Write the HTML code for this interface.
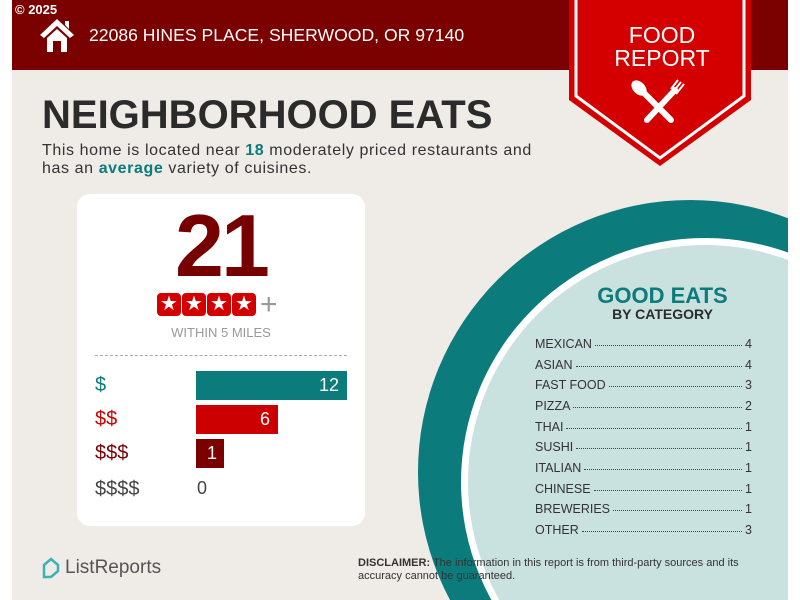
<!DOCTYPE html>
<html><head><meta charset="utf-8"><style>
body{margin:0;width:800px;height:600px;overflow:hidden;background:#fff;font-family:"Liberation Sans",sans-serif;position:relative}
.a{position:absolute;white-space:nowrap}
.row{position:absolute;left:535px;width:217px;font-size:12.5px;color:#333;display:flex;align-items:baseline}
.row .d{flex:1;border-bottom:1px dotted #444;margin:0 3px;height:0;position:relative;top:-2px}
.bl{position:absolute;left:95px;font-size:20px}
</style></head><body>
<div class="a" style="left:12px;top:0;width:776px;height:600px;background:#efebe7;overflow:hidden">
<svg width="776" height="600" style="position:absolute;left:0;top:0">
<circle cx="678" cy="472" r="272" fill="#0b7b7b"/>
<circle cx="693" cy="482" r="244" fill="#fff"/>
<circle cx="693" cy="482" r="237" fill="#c9e1df"/>
</svg>
</div>
<div class="a" style="left:12px;top:0;width:776px;height:70px;background:#7b0000"></div>
<div class="a" style="left:15px;top:2px;color:#fff;font-weight:bold;font-size:13px">© 2025</div>
<svg class="a" style="left:38px;top:17px" width="38" height="36" viewBox="0 0 38 36"><path d="M19 2 L2 18 L6 21 L19 9 L32 21 L36 18 Z M27 4h4v8l-4-4z" fill="#fff"/><path d="M9 21 L19 12 L29 21 V35 H9 Z" fill="#fff"/><rect x="15" y="24" width="8" height="11" fill="#7b0000"/></svg>
<div class="a" style="left:89px;top:25px;color:#fff;font-size:17.6px">22086 HINES PLACE, SHERWOOD, OR 97140</div>
<svg class="a" style="left:567px;top:0" width="186" height="168"><path d="M2 0 H184 V100 L93 166 L2 100 Z" fill="#d40000"/><path d="M9 0 V96 L93 158 L177 96 V0" fill="none" stroke="#fff" stroke-width="3"/>
<g stroke="#fff" stroke-width="6" stroke-linecap="round"><line x1="76" y1="92" x2="104" y2="120"/><line x1="108" y1="90" x2="80" y2="120"/></g>
<ellipse cx="72" cy="88" rx="6" ry="9" fill="#fff" transform="rotate(-45 72 88)"/>
<g stroke="#fff" stroke-width="2"><line x1="106" y1="92" x2="114" y2="82"/><line x1="109" y1="94" x2="117" y2="84"/><line x1="104" y1="89" x2="111" y2="80"/></g></svg>
<div class="a" style="left:577px;top:24px;width:170px;text-align:center;color:#fff;font-size:23px;line-height:23px">FOOD<br>REPORT</div>
<div class="a" style="left:42px;top:93px;font-size:40px;font-weight:bold;color:#2b2b2b">NEIGHBORHOOD EATS</div>
<div class="a" style="left:42px;top:142px;font-size:16px;color:#333;line-height:18px;letter-spacing:0.6px">This home is located near <b style="color:#0b7b7b">18</b> moderately priced restaurants and<br>has an <b style="color:#0b7b7b">average</b> variety of cuisines.</div>
<div class="a" style="left:77px;top:194px;width:288px;height:332px;background:#fff;border-radius:13px"></div>
<div class="a" style="left:77px;top:196px;width:288px;text-align:center;font-size:88px;font-weight:bold;color:#760000;letter-spacing:-3px;line-height:100px">21</div>
<div class="a" style="left:157px;top:293px;display:flex;gap:1px">
<span style="width:24px;height:23px;background:#d40000;border-radius:4px;color:#fff;font-size:20px;text-align:center;line-height:23px">★</span><span style="width:24px;height:23px;background:#d40000;border-radius:4px;color:#fff;font-size:20px;text-align:center;line-height:23px">★</span><span style="width:24px;height:23px;background:#d40000;border-radius:4px;color:#fff;font-size:20px;text-align:center;line-height:23px">★</span><span style="width:24px;height:23px;background:#d40000;border-radius:4px;color:#fff;font-size:20px;text-align:center;line-height:23px">★</span><span style="color:#999;font-size:30px;line-height:23px;margin-left:3px">+</span></div>
<div class="a" style="left:77px;top:325px;width:288px;text-align:center;font-size:13px;color:#999">WITHIN 5 MILES</div>
<div class="a" style="left:95px;top:355px;width:252px;border-top:1px dashed #aaa"></div>
<div class="bl" style="top:374px;color:#0b7b7b">$</div>
<div class="bl" style="top:408px;color:#c00">$$</div>
<div class="bl" style="top:442px;color:#7b0000">$$$</div>
<div class="bl" style="top:478px;color:#444">$$$$</div>
<div class="a" style="left:196px;top:371px;width:151px;height:29px;background:#0b7b7b;color:#fff;font-size:18px;text-align:right;line-height:29px;box-sizing:border-box;padding-right:8px">12</div>
<div class="a" style="left:196px;top:405px;width:82px;height:29px;background:#cc0000;color:#fff;font-size:18px;text-align:right;line-height:29px;box-sizing:border-box;padding-right:8px">6</div>
<div class="a" style="left:196px;top:439px;width:28px;height:29px;background:#7b0000;color:#fff;font-size:18px;text-align:right;line-height:29px;box-sizing:border-box;padding-right:7px">1</div>
<div class="a" style="left:197px;top:478px;font-size:18px;color:#444">0</div>
<div class="a" style="left:560px;top:283px;width:205px;text-align:center;font-size:22px;font-weight:bold;color:#0b7b7b">GOOD EATS</div>
<div class="a" style="left:560px;top:306px;width:205px;text-align:center;font-size:14px;font-weight:bold;color:#2b2b2b">BY CATEGORY</div>
<div class="row" style="top:337px"><span>MEXICAN</span><span class="d"></span><span>4</span></div>
<div class="row" style="top:358px"><span>ASIAN</span><span class="d"></span><span>4</span></div>
<div class="row" style="top:378px"><span>FAST FOOD</span><span class="d"></span><span>3</span></div>
<div class="row" style="top:399px"><span>PIZZA</span><span class="d"></span><span>2</span></div>
<div class="row" style="top:420px"><span>THAI</span><span class="d"></span><span>1</span></div>
<div class="row" style="top:440px"><span>SUSHI</span><span class="d"></span><span>1</span></div>
<div class="row" style="top:461px"><span>ITALIAN</span><span class="d"></span><span>1</span></div>
<div class="row" style="top:482px"><span>CHINESE</span><span class="d"></span><span>1</span></div>
<div class="row" style="top:502px"><span>BREWERIES</span><span class="d"></span><span>1</span></div>
<div class="row" style="top:523px"><span>OTHER</span><span class="d"></span><span>3</span></div>
<svg class="a" style="left:41px;top:557px" width="20" height="22"><path d="M3 20 V8 L10 2 L17 8 V14 L10 20 Z" fill="none" stroke="#3bb3b3" stroke-width="2.5"/></svg>
<div class="a" style="left:65px;top:557px;font-size:19px;color:#555">ListReports</div>
<div class="a" style="left:358px;top:557px;font-size:11px;color:#333;line-height:13px"><b>DISCLAIMER:</b> The information in this report is from third-party sources and its<br>accuracy cannot be guaranteed.</div>
</body></html>
